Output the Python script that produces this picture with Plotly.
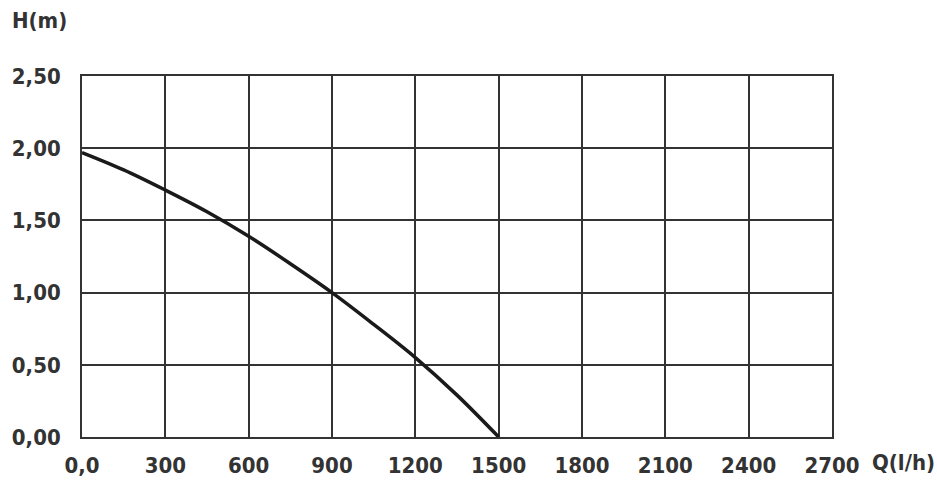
import plotly.graph_objects as go

flow = [0, 150, 300, 450, 600, 750, 900, 1050, 1200, 1350, 1500]
head = [1.97, 1.85, 1.71, 1.56, 1.39, 1.20, 1.00, 0.78, 0.55, 0.29, 0.0]

x_ticks = [0, 300, 600, 900, 1200, 1500, 1800, 2100, 2400, 2700]
x_labels = ["0,0", "300", "600", "900", "1200", "1500", "1800", "2100", "2400", "2700"]
y_ticks = [0, 0.5, 1.0, 1.5, 2.0, 2.5]
y_labels = ["0,00", "0,50", "1,00", "1,50", "2,00", "2,50"]

FONT = "DejaVu Sans Condensed"
grid = "#333333"
tfont = dict(family=FONT, size=22, color="#333333", weight="bold")

fig = go.Figure()
fig.add_trace(go.Scatter(x=flow, y=head, mode="lines",
                         line=dict(color="#1a1a1a", width=3.5, shape="spline", smoothing=1.0),
                         showlegend=False, hoverinfo="skip"))

fig.update_layout(
    width=937, height=484,
    margin=dict(l=82, r=105, t=76, b=47),
    paper_bgcolor="white", plot_bgcolor="white",
    font=tfont,
    xaxis=dict(range=[0, 2700], tickvals=x_ticks, ticktext=x_labels, tickfont=tfont,
               automargin=False,
               showgrid=True, gridcolor=grid, gridwidth=1.8,
               showline=True, linecolor=grid, linewidth=1.8, mirror=True,
               zeroline=False, ticks="outside", ticklen=8, tickcolor="rgba(0,0,0,0)"),
    yaxis=dict(range=[0, 2.5], tickvals=y_ticks, ticktext=y_labels, tickfont=tfont,
               automargin=False,
               showgrid=True, gridcolor=grid, gridwidth=1.8,
               showline=True, linecolor=grid, linewidth=1.8, mirror=True,
               zeroline=False, ticks="outside", ticklen=15, tickcolor="rgba(0,0,0,0)"),
    annotations=[
        dict(text="H(m)", xref="paper", yref="paper", x=-0.096, y=1.155,
             xanchor="left", yanchor="middle", showarrow=False, font=tfont),
        dict(text="Q(l/h)", xref="paper", yref="paper", x=1.05, y=-0.072,
             xanchor="left", yanchor="middle", showarrow=False, font=tfont),
    ],
)

fig.write_html("out.html")
